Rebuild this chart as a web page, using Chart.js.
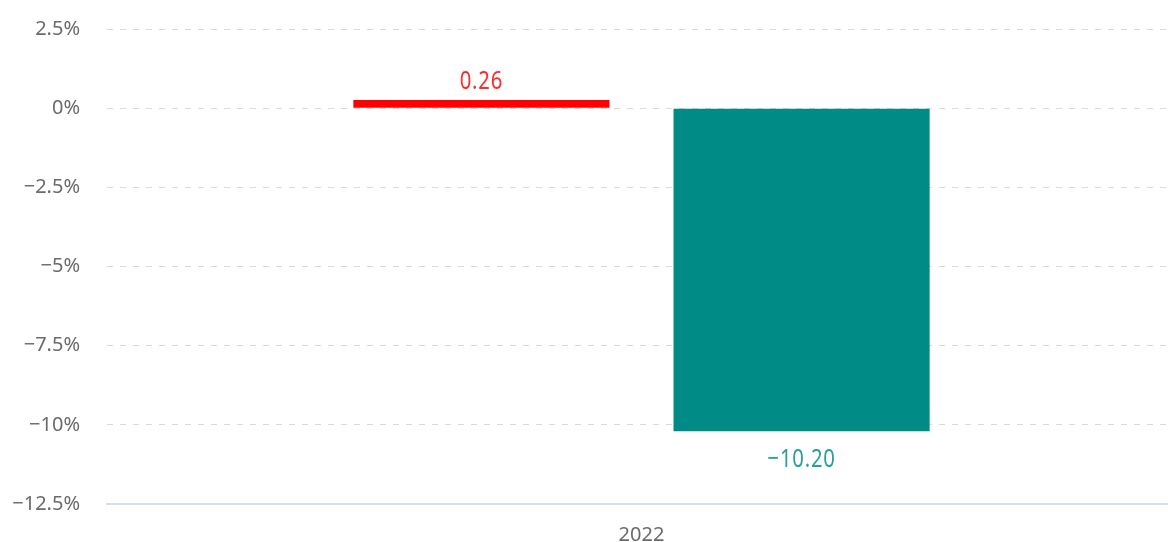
<!DOCTYPE html>
<html>
<head>
<meta charset="utf-8">
<script src="https://cdn.jsdelivr.net/npm/chart.js@4"></script>
<style>
  html, body { margin: 0; padding: 0; background: #fff; overflow: hidden; }
  #wrap { width: 1176px; height: 542px; position: relative; }
</style>
</head>
<body>
<div id="wrap"><canvas id="barChart"></canvas></div>
<script>
// data
const categories = ['2022'];
const redValues = [0.26];
const tealValues = [-10.20];
const yTicks = [2.5, 0, -2.5, -5, -7.5, -10, -12.5];

const MINUS = '\u2212';
const fmtPct = v => (v < 0 ? MINUS : '') + Math.abs(v) + '%';
const fmtLabel = v => (v < 0 ? MINUS : '') + Math.abs(v).toFixed(2);

// small inline plugin for value labels (no datalabels plugin available)
const valueLabels = {
  id: 'valueLabels',
  afterDatasetsDraw(chart) {
    const { ctx } = chart;
    chart.data.datasets.forEach((ds, i) => {
      const meta = chart.getDatasetMeta(i);
      meta.data.forEach((bar, j) => {
        const v = ds.data[j];
        const y = v >= 0 ? bar.y - 18 : bar.y + 28;
        ctx.save();
        ctx.translate(bar.x, y);
        ctx.scale(0.78, 1); // narrow look of the original label font
        ctx.font = '26px "Noto Sans", sans-serif';
        ctx.letterSpacing = '1px';
        ctx.fillStyle = ds.labelColor;
        ctx.textAlign = 'center';
        ctx.textBaseline = 'middle';
        ctx.fillText(fmtLabel(v), 0, 0);
        ctx.restore();
      });
    });
  }
};

new Chart(document.getElementById('barChart'), {
  type: 'bar',
  data: {
    labels: categories,
    datasets: [{
      label: 'A',
      data: redValues,
      backgroundColor: '#ff0000',
      labelColor: '#ff2a2a',
      borderWidth: 0,
      categoryPercentage: 0.599,
      barPercentage: 0.8
    }, {
      label: 'B',
      data: tealValues,
      backgroundColor: '#008b87',
      labelColor: '#27a09b',
      borderWidth: 0,
      categoryPercentage: 0.599,
      barPercentage: 0.8
    }]
  },
  plugins: [valueLabels],
  options: {
    responsive: true,
    maintainAspectRatio: false,
    animation: false,
    layout: { padding: { top: 29, right: 0, bottom: 0, left: 0 } },
    plugins: {
      legend: { display: false },
      tooltip: { enabled: false }
    },
    scales: {
      x: {
        grid: { display: false },
        border: { display: true, color: '#d6def0', width: 2 },
        ticks: { color: '#6b6b6b', font: { family: 'Noto Sans', size: 20 }, padding: 11 },
        afterFit: s => { s.height = 38; }
      },
      y: {
        min: -12.5,
        max: 2.5,
        afterBuildTicks: s => { s.ticks = yTicks.map(v => ({ value: v })); },
        ticks: {
          color: '#6b6b6b',
          font: { family: 'Noto Sans', size: 20 },
          padding: 27,
          callback: v => fmtPct(v)
        },
        grid: {
          drawTicks: false,
          color: c => (c.tick && c.tick.value === -12.5 ? 'rgba(0,0,0,0)' : '#d9d9d9'),
          lineWidth: 1
        },
        border: { display: false, dash: [6, 7] },
        afterFit: s => {
          s.width = 107;
          s.paddingTop = 0;
          s.paddingBottom = 0;
        }
      }
    }
  }
});
</script>
</body>
</html>
